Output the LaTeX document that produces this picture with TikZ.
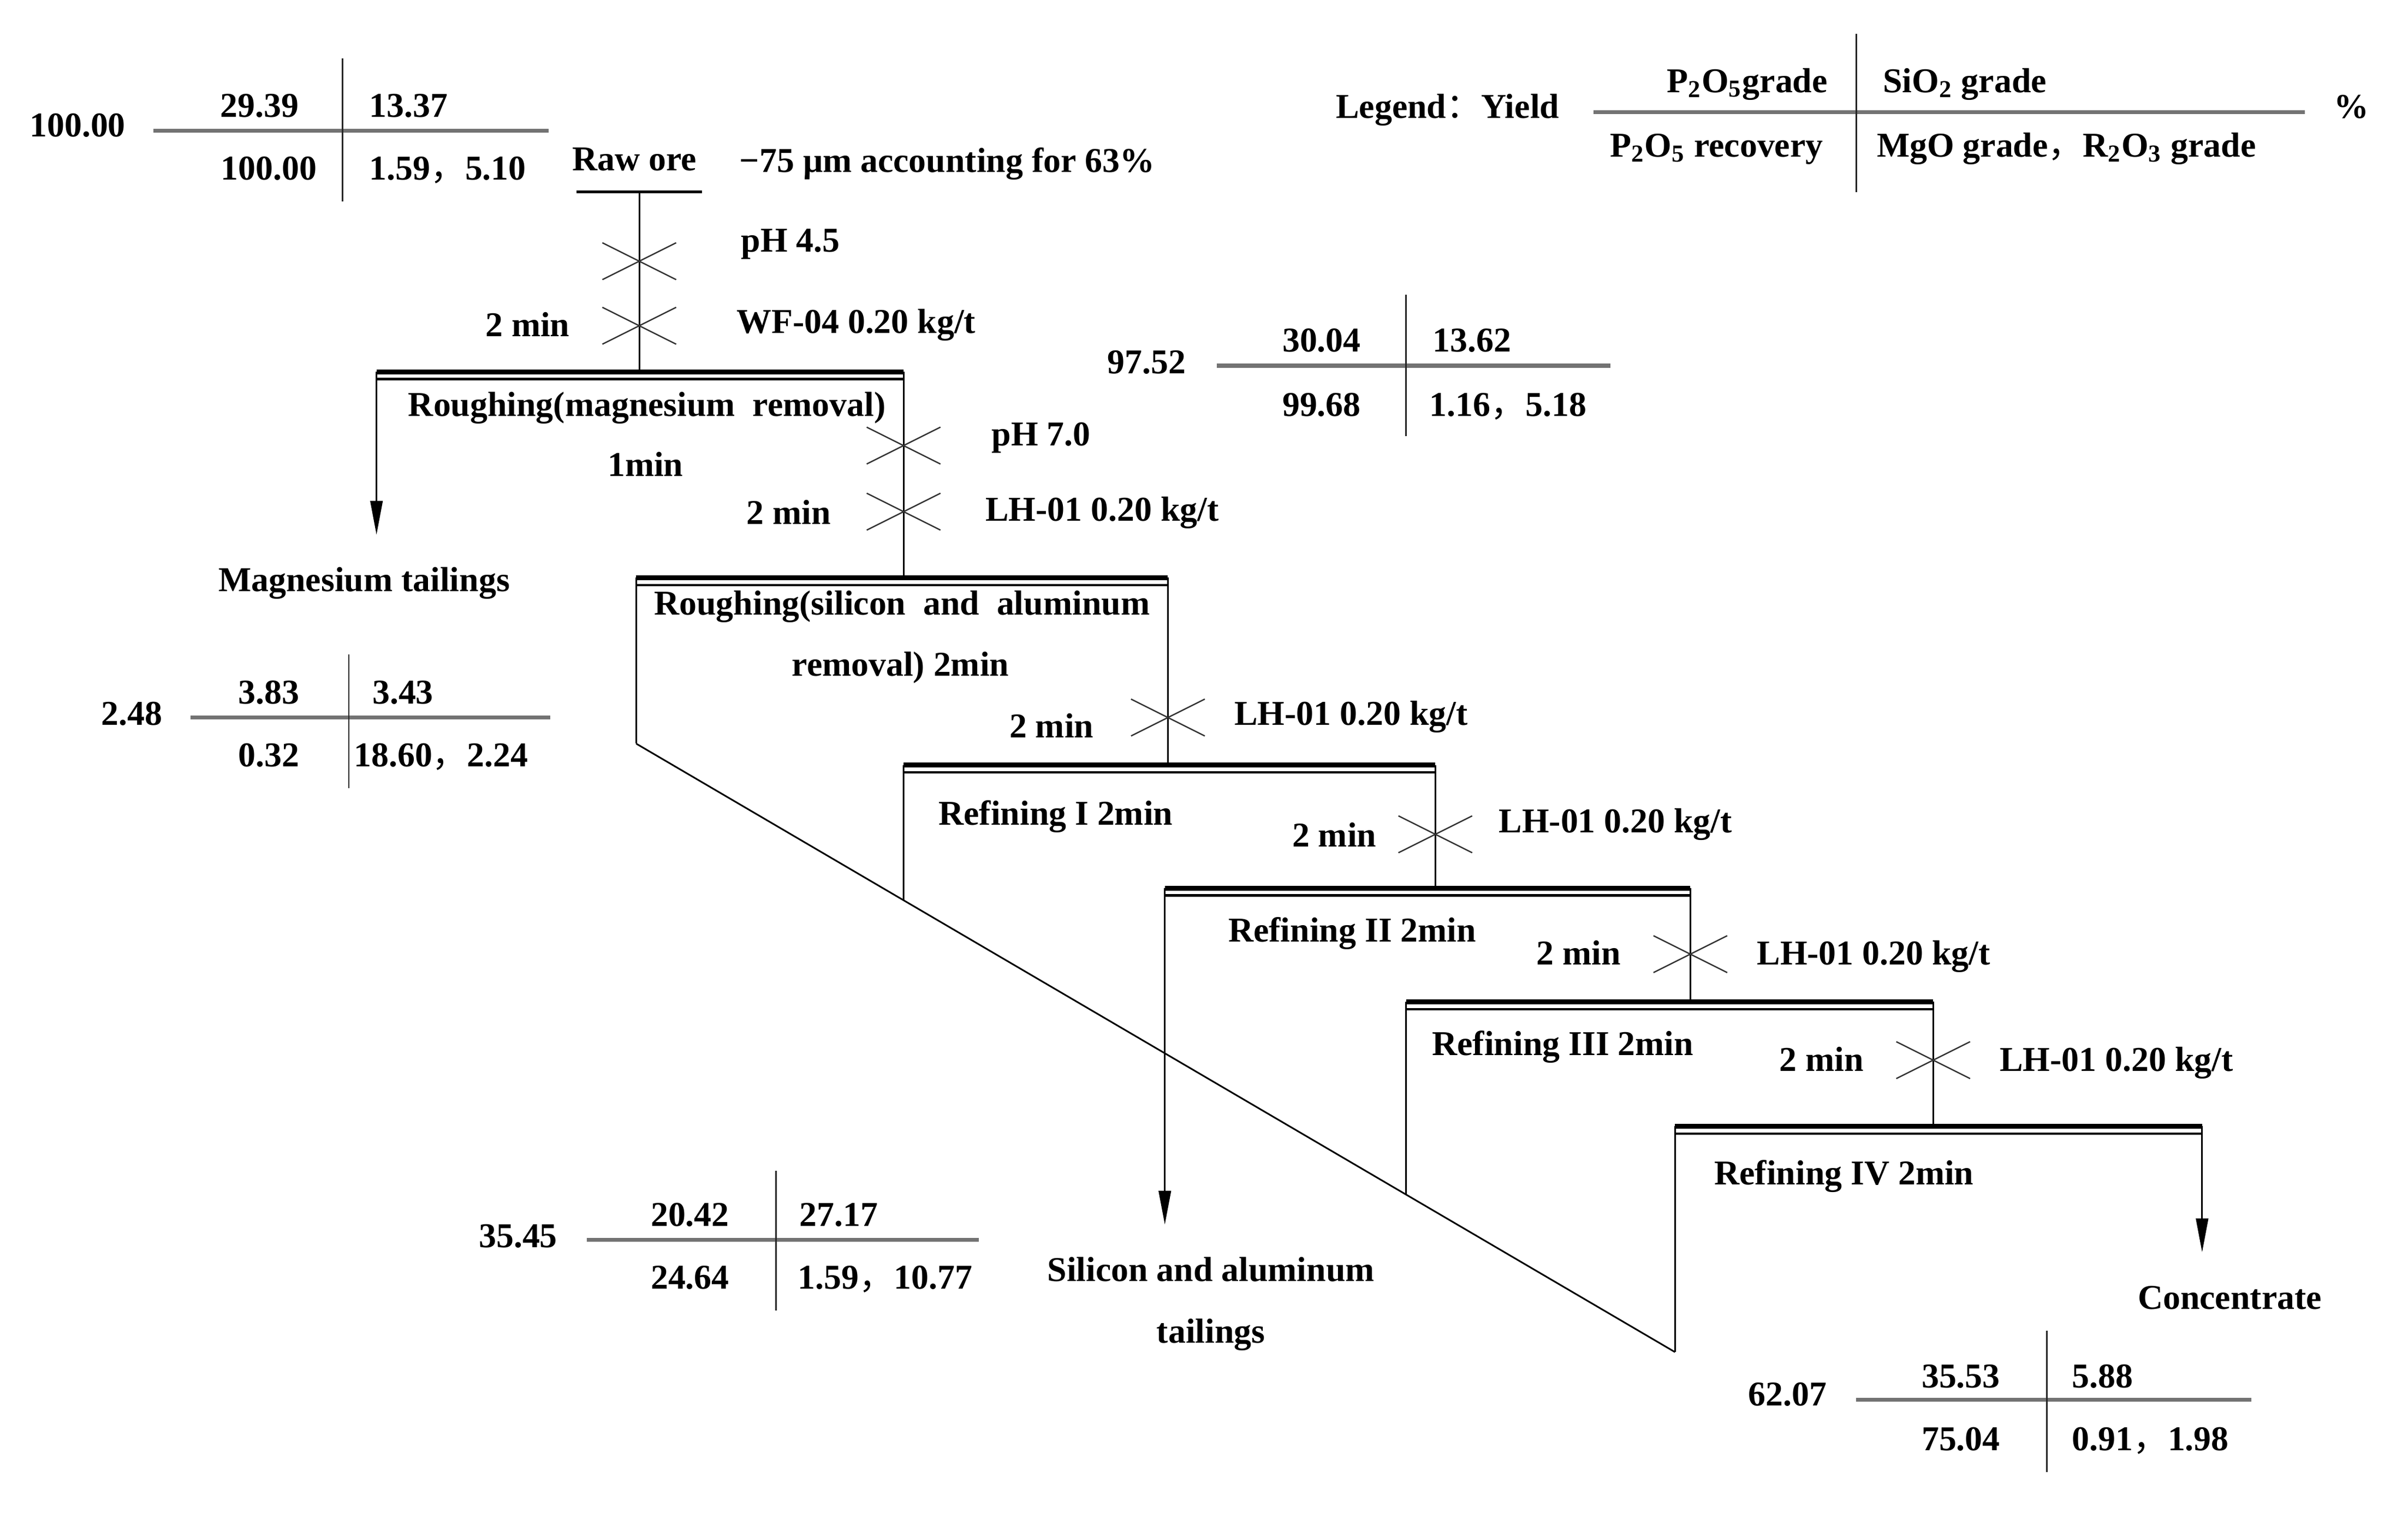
\documentclass[tikz,border=0pt]{standalone}
\usepackage{fontspec}
\setmainfont{Liberation Serif}
\newfontfamily\cjk{Noto Sans CJK SC}
\usetikzlibrary{arrows.meta,calc}
\newcommand{\fc}{{\cjk\mdseries ，}}
\newcommand{\fcolon}{{\cjk\mdseries ：}}
\begin{document}
\begin{tikzpicture}[x=0.02cm,y=-0.02cm,
  txt/.style={font=\fontsize{12.9}{15}\selectfont\bfseries, inner sep=0pt, anchor=mid, yshift=-0.06cm},
  lt/.style={txt, anchor=mid west},
  rt/.style={txt, anchor=mid east},
  flow/.style={line width=0.6pt, black},
  tline/.style={line width=1.5pt, black!55},
  vline/.style={line width=0.6pt, black!85},
  barthick/.style={line width=1.8pt, black},
  barthin/.style={line width=0.9pt, black},
  arr/.style={flow, -{Triangle[length=0.44cm,width=0.16cm]}},
  xmk/.style={line width=0.5pt, black!80}
]
\useasboundingbox (0,0) rectangle (1567,984.7);
\fill[white] (0,0) rectangle (1567,984.7);

% ---------- Legend ----------
\node[rt] (legyield) at (1015,70) {Legend\fcolon Yield};
\coordinate (lgh1) at (1037,73); \coordinate (lgh2) at (1500,73);
\coordinate (lgv1) at (1208,22); \coordinate (lgv2) at (1208,125);
\draw[tline] (lgh1) -- (lgh2);
\draw[vline] (lgv1) -- (lgv2);
\node[txt] (legtl) at (1137,53) {P\textsubscript{2}O\textsubscript{5}grade};
\node[lt] (legtr) at (1225,53) {SiO\textsubscript{2} grade};
\node[txt] (legbl) at (1117,95) {P\textsubscript{2}O\textsubscript{5} recovery};
\node[lt] (legbr) at (1221,95) {MgO grade\fc R\textsubscript{2}O\textsubscript{3} grade};
\node[txt] (legpct) at (1530,70) {\%};

% ---------- Table 1 (raw ore) ----------
\node[rt] (t1y) at (82,82) {100.00};
\coordinate (t1h1) at (100,85); \coordinate (t1h2) at (357,85);
\coordinate (t1v1) at (223,38); \coordinate (t1v2) at (223,131);
\draw[tline] (t1h1) -- (t1h2);
\draw[vline] (t1v1) -- (t1v2);
\node[txt] (t1a) at (169,69) {29.39};
\node[lt] (t1b) at (240,69) {13.37};
\node[txt] (t1c) at (175,110) {100.00};
\node[lt] (t1d) at (240,110) {1.59\fc 5.10};

% ---------- Table 2 ----------
\node[rt] (t2y) at (772,236) {97.52};
\coordinate (t2h1) at (792,238); \coordinate (t2h2) at (1048,238);
\coordinate (t2v1) at (915,192); \coordinate (t2v2) at (915,284);
\draw[tline] (t2h1) -- (t2h2);
\draw[vline] (t2v1) -- (t2v2);
\node[txt] (t2a) at (860,222) {30.04};
\node[lt] (t2b) at (932,222) {13.62};
\node[txt] (t2c) at (860,264) {99.68};
\node[lt] (t2d) at (930,264) {1.16\fc 5.18};

% ---------- Table 3 (Mg tailings) ----------
\node[rt] (t3y) at (106,465) {2.48};
\coordinate (t3h1) at (124,467); \coordinate (t3h2) at (358,467);
\coordinate (t3v1) at (227,426); \coordinate (t3v2) at (227,513);
\draw[tline] (t3h1) -- (t3h2);
\draw[vline] (t3v1) -- (t3v2);
\node[txt] (t3a) at (175,451) {3.83};
\node[lt] (t3b) at (242,451) {3.43};
\node[txt] (t3c) at (175,492) {0.32};
\node[lt] (t3d) at (230,492) {18.60\fc 2.24};

% ---------- Table 4 (Si/Al tailings) ----------
\node[rt] (t4y) at (363,805) {35.45};
\coordinate (t4h1) at (382,807); \coordinate (t4h2) at (637,807);
\coordinate (t4v1) at (505,762); \coordinate (t4v2) at (505,853);
\draw[tline] (t4h1) -- (t4h2);
\draw[vline] (t4v1) -- (t4v2);
\node[txt] (t4a) at (449,791) {20.42};
\node[lt] (t4b) at (520,791) {27.17};
\node[txt] (t4c) at (449,832) {24.64};
\node[lt] (t4d) at (519,832) {1.59\fc 10.77};

% ---------- Table 5 (concentrate) ----------
\node[rt] (t5y) at (1189,908) {62.07};
\coordinate (t5h1) at (1208,911); \coordinate (t5h2) at (1465,911);
\coordinate (t5v1) at (1332,866); \coordinate (t5v2) at (1332,958);
\draw[tline] (t5h1) -- (t5h2);
\draw[vline] (t5v1) -- (t5v2);
\node[txt] (t5a) at (1276,896) {35.53};
\node[lt] (t5b) at (1348,896) {5.88};
\node[txt] (t5c) at (1276,937) {75.04};
\node[lt] (t5d) at (1348,937) {0.91\fc 1.98};

% ---------- Raw ore ----------
\node[txt] (raw) at (413,104) {Raw ore};
\node[lt] (size) at (481,105) {−75 μm accounting for 63\%};
\coordinate (ru1) at (375,125); \coordinate (ru2) at (457,125);
\draw[line width=1pt] (ru1) -- (ru2);

% ---------- bar coordinates ----------
\coordinate (f0) at (416,125);
\coordinate (b1l) at (245,242);  \coordinate (b1r) at (588,242);  \coordinate (b1m) at (416,242);
\coordinate (b2l) at (414,376);  \coordinate (b2r) at (760,376);  \coordinate (b2m) at (588,376);
\coordinate (b3l) at (588,498);  \coordinate (b3r) at (934,498);  \coordinate (b3m) at (760,498);
\coordinate (b4l) at (758,578);  \coordinate (b4r) at (1100,578); \coordinate (b4m) at (934,578);
\coordinate (b5l) at (915,652);  \coordinate (b5r) at (1258,652); \coordinate (b5m) at (1100,652);
\coordinate (b6l) at (1090,733); \coordinate (b6r) at (1433,733); \coordinate (b6m) at (1258,733);

% feed lines
\draw[flow] (f0) -- (b1m);
\draw[flow] (b1r) -- (b2m);
\draw[flow] (b2r) -- (b3m);
\draw[flow] (b3r) -- (b4m);
\draw[flow] (b4r) -- (b5m);
\draw[flow] (b5r) -- (b6m);

% bars (double line)
\foreach \b in {1,...,6}{
  \draw[barthick] (b\b l) -- (b\b r);
  \draw[barthin] ([yshift=-0.095cm]b\b l) -- ([yshift=-0.095cm]b\b r);
}

% diagonal and tails
\coordinate (d0) at (414,484);
\coordinate (d1) at (1090,880);
\coordinate (d2) at ($(d0)!0.2574!(d1)$);
\coordinate (d3) at ($(d0)!0.7411!(d1)$);
\draw[flow] (d0) -- (d1);
\draw[flow] (b2l) -- (d0);
\draw[flow] (b3l) -- (d2);
\draw[flow] (b5l) -- (d3);
\draw[flow] (b6l) -- (d1);

\coordinate (mgend) at (245,348);
\coordinate (sialend) at (758,797);
\coordinate (concend) at (1433,815);
\draw[arr] (b1l) -- (mgend);
\draw[arr] (b4l) -- (sialend);
\draw[arr] (b6r) -- (concend);

% ---------- crosses ----------
\foreach \n/\px/\py in {x1/416/170, x2/416/212, x3/588/290, x4/588/333, x5/760/467, x6/934/543, x7/1100/621, x8/1258/690}{
  \coordinate (\n) at (\px,\py);
  \draw[xmk] ([shift={(-24,-12)}]\n) -- ([shift={(24,12)}]\n);
  \draw[xmk] ([shift={(-24,12)}]\n) -- ([shift={(24,-12)}]\n);
}

% ---------- reagent labels ----------
\node[lt] (r1) at (482,157) {pH 4.5};
\node[lt] (r2) at (479,210) {WF-04 0.20 kg/t};
\node[rt] (m2) at (371,212) {2 min};
\node[lt] (r3) at (645,283) {pH 7.0};
\node[lt] (r4) at (641,332) {LH-01 0.20 kg/t};
\node[rt] (m4) at (541,334) {2 min};
\node[lt] (r5) at (803,465) {LH-01 0.20 kg/t};
\node[rt] (m5) at (712,473) {2 min};
\node[lt] (r6) at (975,535) {LH-01 0.20 kg/t};
\node[rt] (m6) at (896,544) {2 min};
\node[lt] (r7) at (1143,621) {LH-01 0.20 kg/t};
\node[rt] (m7) at (1055,621) {2 min};
\node[lt] (r8) at (1301,690) {LH-01 0.20 kg/t};
\node[rt] (m8) at (1213,690) {2 min};

% ---------- stage labels ----------
\node[txt] (s1a) at (421,264) {Roughing(magnesium\ \ removal)};
\node[txt] (s1b) at (420,303) {1min};
\node[txt] (mgt) at (237,378) {Magnesium tailings};
\node[txt] (s2a) at (587,393) {Roughing(silicon\ \ and\ \ aluminum};
\node[txt] (s2b) at (586,433) {removal) 2min};
\node[txt] (s3) at (687,530) {Refining I 2min};
\node[txt] (s4) at (880,606) {Refining II 2min};
\node[txt] (s5) at (1017,680) {Refining III 2min};
\node[txt] (s6) at (1200,764) {Refining IV 2min};
\node[txt] (sat1) at (788,827) {Silicon and aluminum};
\node[txt] (sat2) at (788,867) {tailings};
\node[txt] (conc) at (1451,845) {Concentrate};
\end{tikzpicture}
\end{document}
